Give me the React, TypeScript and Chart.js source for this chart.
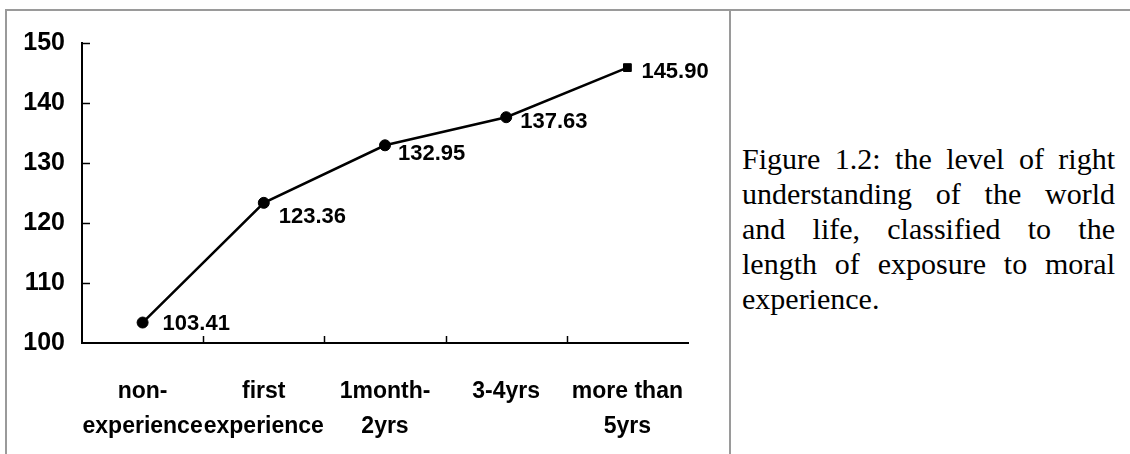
import React, { useEffect, useRef } from "react";
import { Chart, registerables } from "chart.js";

Chart.register(...registerables);

const categories: string[][] = [
  ["non-", "experience"],
  ["first", "experience"],
  ["1month-", "2yrs"],
  ["3-4yrs"],
  ["more than", "5yrs"],
];
const values: number[] = [103.41, 123.36, 132.95, 137.63, 145.9];
const yTickValues: number[] = [100, 110, 120, 130, 140, 150];
const markerStyles: string[] = ["circle", "circle", "circle", "circle", "rect"];
const captionLines: string[] = [
  "Figure 1.2: the level of right",
  "understanding of the world",
  "and life, classified to the",
  "length of exposure to moral",
  "experience.",
];

const AXIS_FONT = '"Liberation Sans", Arial, sans-serif';
// label placement relative to its point (style, not data)
const labelDx = [20, 15, 13, 14, 14];
const labelDy = [1, 14, 9, 5, 4];

const inwardTicks = {
  id: "inwardTicks",
  afterDraw(chart: any) {
    const { ctx, chartArea, scales } = chart;
    const x = scales.x;
    const y = scales.y;
    ctx.save();
    ctx.strokeStyle = "#000";
    ctx.lineWidth = 1.5;
    yTickValues.forEach((v) => {
      if (v === y.min) return;
      const py = Math.round(y.getPixelForValue(v)) + 0.5;
      ctx.beginPath();
      ctx.moveTo(chartArea.left, py);
      ctx.lineTo(chartArea.left + 8, py);
      ctx.stroke();
    });
    for (let i = 0; i < categories.length - 1; i++) {
      const px = Math.round((x.getPixelForValue(i) + x.getPixelForValue(i + 1)) / 2) + 0.5;
      ctx.beginPath();
      ctx.moveTo(px, chartArea.bottom);
      ctx.lineTo(px, chartArea.bottom - 7);
      ctx.stroke();
    }
    ctx.restore();
  },
};

const valueLabels = {
  id: "valueLabels",
  afterDatasetsDraw(chart: any) {
    const { ctx } = chart;
    const meta = chart.getDatasetMeta(0);
    ctx.save();
    ctx.fillStyle = "#000";
    ctx.font = `bold 22px ${AXIS_FONT}`;
    ctx.textAlign = "left";
    ctx.textBaseline = "middle";
    meta.data.forEach((pt: any, i: number) => {
      ctx.fillText(values[i].toFixed(2), pt.x + labelDx[i], pt.y + labelDy[i]);
    });
    ctx.restore();
  },
};

export default function App() {
  const canvasRef = useRef<HTMLCanvasElement | null>(null);

  useEffect(() => {
    const canvas = canvasRef.current;
    if (!canvas) return;
    const chart = new Chart(canvas, {
      type: "line",
      data: {
        labels: categories,
        datasets: [
          {
            data: values,
            borderColor: "#000",
            backgroundColor: "#000",
            borderWidth: 2.5,
            pointStyle: markerStyles as any,
            pointRadius: [5.5, 5.5, 5.5, 5.5, 5.5],
            pointBackgroundColor: "#000",
            pointBorderColor: "#000",
            pointBorderWidth: 1,
            tension: 0,
          },
        ],
      },
      options: {
        responsive: false,
        animation: false,
        devicePixelRatio: 1,
        layout: { padding: { top: 43, right: 40, left: 0, bottom: 0 } },
        plugins: {
          legend: { display: false },
          tooltip: { enabled: false },
          title: { display: false },
        },
        scales: {
          x: {
            type: "category",
            offset: true,
            grid: { display: false, drawTicks: false },
            border: { display: true, color: "#000", width: 2 },
            ticks: {
              color: "#000",
              font: { family: AXIS_FONT, size: 23, weight: "bold", lineHeight: 35 / 23 },
              padding: 31,
              maxRotation: 0,
              autoSkip: false,
            },
            afterFit: (s: any) => {
              s.height = 111;
            },
          },
          y: {
            min: 100,
            max: 150,
            grid: { display: false, drawTicks: false },
            border: { display: true, color: "#000", width: 2 },
            ticks: {
              stepSize: 10,
              color: "#000",
              font: { family: AXIS_FONT, size: 25, weight: "bold" },
              padding: 17,
            },
            afterFit: (s: any) => {
              s.width = 82;
            },
          },
        },
      },
      plugins: [inwardTicks, valueLabels],
    });
    return () => chart.destroy();
  }, []);

  const gray = "#9a9a9a";
  return (
    <div
      style={{
        position: "fixed",
        left: 0,
        top: 0,
        width: 1130,
        height: 454,
        background: "#fff",
        overflow: "hidden",
      }}
    >
      <div style={{ position: "absolute", left: 5, top: 9, width: 1125, height: 2, background: gray }} />
      <div style={{ position: "absolute", left: 5, top: 9, width: 2, height: 445, background: gray }} />
      <div style={{ position: "absolute", left: 729, top: 9, width: 2, height: 445, background: gray }} />
      <div style={{ position: "absolute", left: 0, top: 0, width: 728, height: 454 }}>
        <canvas ref={canvasRef} width={728} height={454} style={{ display: "block" }} />
      </div>
      <div
        style={{
          position: "absolute",
          left: 742,
          top: 141,
          width: 373,
          fontFamily: '"Liberation Serif", "Times New Roman", serif',
          fontSize: 30,
          lineHeight: "35px",
          color: "#000",
        }}
      >
        {captionLines.map((line, i) => (
          <div
            key={i}
            style={{
              textAlign: i < captionLines.length - 1 ? "justify" : "left",
              textAlignLast: i < captionLines.length - 1 ? "justify" : "left",
              whiteSpace: "nowrap",
            }}
          >
            {line}
          </div>
        ))}
      </div>
    </div>
  );
}
